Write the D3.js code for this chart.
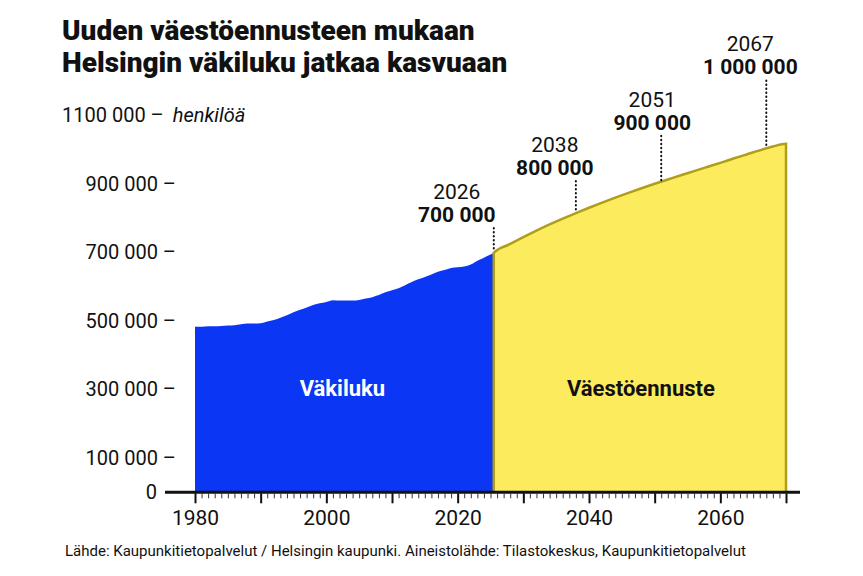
<!DOCTYPE html>
<html>
<head>
<meta charset="utf-8">
<script src="https://cdn.jsdelivr.net/npm/d3@7/dist/d3.min.js"></script>
<style>
  body { margin: 0; background: #fff; }
  svg { display: block; font-family: Roboto, "Noto Sans", sans-serif; }
  .axis text { font-family: Roboto, sans-serif; fill: #111; }
</style>
</head>
<body>
<div id="chart"></div>
<script>
// observed population (Helsinki), year -> persons
const observedYears = [1980, 1981, 1982, 1983, 1984, 1985, 1986, 1987, 1988, 1989,
  1990, 1991, 1992, 1993, 1994, 1995, 1996, 1997, 1998, 1999,
  2000, 2001, 2002, 2003, 2004, 2005, 2006, 2007, 2008, 2009,
  2010, 2011, 2012, 2013, 2014, 2015, 2016, 2017, 2018, 2019,
  2020, 2021, 2022, 2023, 2024, 2025, 2025.5];
const observedValues = [483000, 483000, 484000, 484000, 485000, 486000, 487000, 490000, 492000, 492000,
  493000, 498000, 502000, 509000, 516000, 525000, 532000, 539000, 546000, 551000,
  555000, 560000, 559000, 559000, 559000, 561000, 565000, 569000, 575000, 583000,
  589000, 595000, 604000, 613000, 621000, 628000, 635000, 643000, 648000, 654000,
  656000, 658000, 664000, 675000, 684000, 693000, 698000];

// forecast
const forecastYears = [2025.5, 2028, 2030, 2032, 2034, 2036, 2038, 2040, 2042, 2044, 2046,
  2048, 2050, 2052, 2054, 2056, 2058, 2060, 2062, 2064, 2066, 2068, 2070];
const forecastValues = [698000, 724000, 744000, 763000, 781000, 798000, 814000, 829500, 844500, 859000, 873000,
  886500, 899500, 912000, 924500, 936500, 948500, 960500, 973000, 985000, 997000, 1008000, 1016000];

// milestones
const milestoneYears = [2026, 2038, 2051, 2067];
const milestoneValues = [700000, 800000, 900000, 1000000];

const yTicks = [0, 100000, 300000, 500000, 700000, 900000];
const xLabelYears = [1980, 2000, 2020, 2040, 2060];

const title = ['Uuden väestöennusteen mukaan', 'Helsingin väkiluku jatkaa kasvuaan'];
const unitLabel = ['1100 000 –', 'henkilöä'];
const seriesNames = ['Väkiluku', 'Väestöennuste'];
const source = 'Lähde: Kaupunkitietopalvelut / Helsingin kaupunki. Aineistolähde: Tilastokeskus, Kaupunkitietopalvelut';

const width = 863, height = 576;
const blue = '#0b37f4', yellow = '#fdeb5e', olive = '#b09d1a';

const fi = d3.formatLocale({decimal: ',', thousands: '\u00a0', grouping: [3], currency: ['', '€']});
const fmt = fi.format(',d');

const svg = d3.select('#chart').append('svg')
    .attr('width', width)
    .attr('height', height);

const x = d3.scaleLinear().domain([1980, 2070]).range([195, 786]);
const y = d3.scaleLinear().domain([0, 1100000]).range([492.3, 115]);

const observed = observedYears.map((d, i) => ({year: d, value: observedValues[i]}));
const forecast = forecastYears.map((d, i) => ({year: d, value: forecastValues[i]}));
const splitYear = forecastYears[0];

const area = d3.area()
    .x(d => x(d.year))
    .y0(y(0))
    .y1(d => y(d.value))
    .curve(d3.curveMonotoneX);

svg.append('path')
    .datum(observed)
    .attr('d', area)
    .attr('fill', blue);

svg.append('path')
    .datum(forecast)
    .attr('d', area)
    .attr('fill', yellow);

// outline of the forecast: left edge, top curve, right edge
const last = forecast[forecast.length - 1];
const outline = [{year: splitYear, value: 0}].concat(forecast, [{year: last.year, value: 0}]);
svg.append('path')
    .datum(outline)
    .attr('d', d3.line().x(d => x(d.year)).y(d => y(d.value)).curve(d3.curveMonotoneX))
    .attr('fill', 'none')
    .attr('stroke', olive)
    .attr('stroke-width', 2.5);

// series labels
svg.append('text')
    .attr('x', (x(1980) + x(splitYear)) / 2 - 2)
    .attr('y', 396)
    .attr('text-anchor', 'middle')
    .attr('font-size', 22).attr('font-weight', 700)
    .attr('fill', '#fff')
    .text(seriesNames[0]);
svg.append('text')
    .attr('x', (x(splitYear) + x(2070)) / 2 + 1)
    .attr('y', 396)
    .attr('text-anchor', 'middle')
    .attr('font-size', 22).attr('font-weight', 700)
    .attr('fill', '#111')
    .text(seriesNames[1]);

// x axis: base line, yearly minor ticks, decade ticks, labels
svg.append('line')
    .attr('x1', 165).attr('x2', 800)
    .attr('y1', y(0)).attr('y2', y(0))
    .attr('stroke', '#111').attr('stroke-width', 3);

const minor = svg.append('g')
    .attr('class', 'axis')
    .attr('transform', 'translate(0,' + (y(0) + 1) + ')')
    .call(d3.axisBottom(x).ticks(90).tickSize(5).tickFormat(''));
minor.select('.domain').remove();
minor.selectAll('line').attr('stroke', '#333').attr('stroke-width', 1);

const major = svg.append('g')
    .attr('class', 'axis')
    .attr('transform', 'translate(0,' + (y(0) + 1) + ')')
    .call(d3.axisBottom(x).ticks(9).tickSize(10).tickPadding(7)
        .tickFormat(d => xLabelYears.includes(d) ? d : ''));
major.select('.domain').remove();
major.selectAll('line').attr('stroke', '#111').attr('stroke-width', 2);
major.selectAll('text').attr('font-size', 21).attr('font-family', 'Roboto, sans-serif');

// y axis labels
const yAxis = svg.append('g')
    .attr('class', 'axis')
    .attr('transform', 'translate(176,0)')
    .call(d3.axisLeft(y).tickValues(yTicks).tickSize(0).tickPadding(0)
        .tickFormat(d => d === 0 ? '0' : fmt(d) + ' –'));
yAxis.select('.domain').remove();
yAxis.selectAll('text')
    .attr('font-size', 20).attr('font-family', 'Roboto, sans-serif')
    .attr('x', d => d === 0 ? -19 : 0);

const unit = svg.append('text')
    .attr('x', 62).attr('y', y(1100000))
    .attr('dy', '0.35em')
    .attr('font-size', 20).attr('fill', '#111');
unit.append('tspan').text(unitLabel[0] + ' ');
unit.append('tspan').attr('font-style', 'italic').attr('dx', 4).text(unitLabel[1]);

// milestones
const labelDx = [-37, -21, -9, -16];
const labelLift = [31, 38, 52, 74];
function forecastAt(year){
    const i = d3.bisectLeft(forecastYears, year);
    if(i <= 0) return forecastValues[0];
    const t = (year - forecastYears[i - 1]) / (forecastYears[i] - forecastYears[i - 1]);
    return forecastValues[i - 1] + t * (forecastValues[i] - forecastValues[i - 1]);
}
milestoneYears.forEach((yr, i) => {
    // the first milestone sits on the split between observed and forecast
    const pos = i === 0 ? splitYear : yr;
    const cx = x(pos);
    const cy = y(forecastAt(pos));
    const base = cy - labelLift[i];
    svg.append('line')
        .attr('x1', cx).attr('x2', cx)
        .attr('y1', base + 6).attr('y2', cy - 1)
        .attr('stroke', '#111').attr('stroke-width', 2)
        .attr('stroke-linecap', 'round')
        .attr('stroke-dasharray', '0.5,3.5');
    svg.append('text')
        .attr('x', cx + labelDx[i]).attr('y', base - 23)
        .attr('text-anchor', 'middle')
        .attr('font-size', 21).attr('fill', '#111')
        .text(yr);
    svg.append('text')
        .attr('x', cx + labelDx[i]).attr('y', base)
        .attr('text-anchor', 'middle')
        .attr('font-size', 21).attr('font-weight', 700).attr('fill', '#111')
        .text(fmt(milestoneValues[i]));
});

// title
svg.append('g').selectAll('text')
    .data(title)
    .join('text')
    .attr('x', 62)
    .attr('y', (d, i) => 40 + i * 32)
    .attr('font-size', 28).attr('font-weight', 900)
    .attr('fill', '#111')
    .text(d => d);

// source
svg.append('text')
    .attr('x', 65).attr('y', 556)
    .attr('font-size', 15).attr('fill', '#111')
    .text(source);
</script>
</body>
</html>
